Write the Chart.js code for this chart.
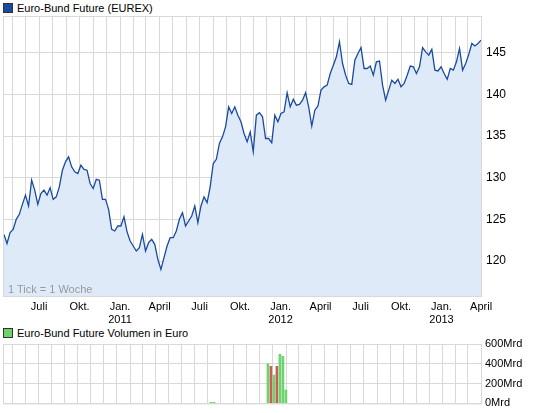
<!DOCTYPE html>
<html>
<head>
<meta charset="utf-8">
<script src="https://cdn.jsdelivr.net/npm/chart.js@4"></script>
<style>
  body { margin: 0; width: 545px; height: 413px; background: #fff; font-family: "Liberation Sans", Arial, sans-serif; position: relative; overflow: hidden; }
  .leg { position: absolute; left: 3px; font-size: 11px; color: #000; }
  .leg span { display: inline-block; width: 8px; height: 8px; border: 1px solid #333; margin-right: 4px; vertical-align: -1px; }
  #note { position: absolute; left: 8px; top: 283px; font-size: 11px; color: #999; }
  canvas { position: absolute; left: 0; }
</style>
</head>
<body>
<div class="leg" style="top:2px"><span style="background:#1a4aa0"></span>Euro-Bund Future (EUREX)</div>
<div class="leg" style="top:327px"><span style="background:#6cd46c"></span>Euro-Bund Future Volumen in Euro</div>
<canvas id="priceChart" style="top:0" width="545" height="330"></canvas>
<canvas id="volChart" style="top:330px" width="545" height="83"></canvas>
<div id="note">1 Tick = 1 Woche</div>
<script>
// Wochenkurse ab April 2010
const prices = [
  123.2, 122.1, 123.4, 123.8, 125.0, 125.6, 126.8, 127.9, 126.6, 129.7,
  128.5, 126.8, 128.1, 128.5, 127.9, 128.8, 127.4, 127.7, 128.9, 130.9,
  131.9, 132.5, 131.3, 130.7, 130.5, 131.5, 131.0, 130.9, 129.3, 128.7,
  129.8, 129.7, 127.4, 127.4, 126.2, 123.8, 123.6, 124.2, 124.2, 125.3,
  123.5, 122.4, 121.8, 121.2, 121.6, 123.2, 121.2, 122.2, 122.6, 122.0,
  120.2, 119.0, 120.4, 121.8, 122.8, 122.8, 123.6, 125.0, 125.8, 124.2,
  124.8, 125.4, 126.6, 124.6, 126.6, 127.7, 127.0, 128.9, 131.7, 132.2,
  134.1, 134.9, 136.1, 138.5, 137.7, 138.5, 137.5, 136.7, 135.3, 134.3,
  135.5, 133.1, 137.5, 137.8, 137.3, 134.7, 134.7, 134.2, 137.5, 136.7,
  137.7, 137.9, 140.2, 138.5, 139.4, 138.7, 138.8, 139.3, 140.2, 138.5,
  136.2, 138.1, 138.6, 140.5, 140.9, 141.1, 142.5, 143.5, 144.5, 146.3,
  143.7, 142.3, 141.3, 141.2, 144.1, 144.9, 145.6, 143.1, 143.1, 143.4,
  142.3, 143.9, 144.0, 141.1, 139.3, 140.5, 141.7, 141.3, 141.8, 140.9,
  141.3, 142.3, 143.4, 143.3, 142.5, 143.3, 145.6, 145.1, 144.7, 145.4,
  142.9, 142.8, 143.3, 142.5, 141.8, 143.1, 142.9, 143.9, 145.5, 142.9,
  143.7, 144.8, 146.1, 145.8, 146.1, 146.5
];

// Volumen (Mrd Euro): nur wenige Wochen mit Daten
const volWeeks = [67, 68, 86, 87, 88, 89, 90, 91, 92];
const volValues = [10, 10, 400, 375, 285, 375, 495, 475, 135];
const volUp = [true, true, true, false, true, false, true, true, true];

const priceTicks = [120, 125, 130, 135, 140, 145];
const volTicks = [0, 200, 400, 600];
const quarterNames = { 0: 'Jan.', 3: 'April', 6: 'Juli', 9: 'Okt.' };

const startDate = new Date(2010, 3, 12);
function weekOf(y, m) {
  return (new Date(y, m, 1) - startDate) / (7 * 864e5);
}
const xMin = -0.3, xMax = prices.length - 0.7;
const monthTicks = [];
for (let y = 2010; y <= 2013; y++) {
  for (let m = 0; m < 12; m++) {
    const w = weekOf(y, m);
    if (w > 0 && w < xMax) monthTicks.push({ value: w, y: y, m: m });
  }
}

const gridColor = '#d9d9d9';
const fontSpec = { family: 'Liberation Sans', size: 11 };

const boxPlugin = {
  id: 'box',
  afterDatasetsDraw(chart) {
    const a = chart.chartArea, c = chart.ctx;
    c.save();
    c.strokeStyle = gridColor;
    c.lineWidth = 1;
    c.strokeRect(a.left + 0.5, a.top + 0.5, a.right - a.left - 1, a.bottom - a.top);
    c.restore();
  }
};

function xScale(showLabels, height) {
  return {
    type: 'linear', min: xMin, max: xMax,
    afterBuildTicks: s => { s.ticks = monthTicks.map(t => ({ value: t.value })); },
    afterFit: s => { s.height = height; },
    grid: { color: gridColor, drawTicks: false },
    border: { display: false },
    ticks: {
      display: showLabels, autoSkip: false, maxRotation: 0, color: '#000', font: fontSpec, padding: 4,
      callback: (v, i) => {
        const t = monthTicks[i];
        if (!t || quarterNames[t.m] === undefined) return '';
        return t.m === 0 ? [quarterNames[0], String(t.y)] : quarterNames[t.m];
      }
    }
  };
}

new Chart(document.getElementById('priceChart'), {
  type: 'line',
  data: {
    datasets: [{
      data: prices.map((p, i) => ({ x: i, y: p })),
      borderColor: '#1a4aa0', borderWidth: 1.3, pointRadius: 0, tension: 0,
      fill: 'start', backgroundColor: '#dfeaf9'
    }]
  },
  options: {
    responsive: false, animation: false,
    layout: { padding: { left: 3, top: 16, right: 0, bottom: 0 } },
    plugins: { legend: { display: false }, tooltip: { enabled: false } },
    scales: {
      x: xScale(true, 34),
      y: {
        position: 'right', min: 115.8, max: 149.4,
        afterBuildTicks: s => { s.ticks = priceTicks.map(v => ({ value: v })); },
        afterFit: s => { s.width = 63; },
        grid: { color: gridColor, drawTicks: false },
        border: { display: false },
        ticks: { color: '#000', font: { family: 'Liberation Sans', size: 12 }, padding: 4 }
      }
    }
  },
  plugins: [boxPlugin]
});

new Chart(document.getElementById('volChart'), {
  type: 'bar',
  data: {
    datasets: [{
      data: volWeeks.map((w, i) => ({ x: w, y: volValues[i] })),
      backgroundColor: volUp.map(u => u ? '#6cd46c' : '#cc5c55'),
      barThickness: 2, grouped: false
    }]
  },
  options: {
    responsive: false, animation: false,
    layout: { padding: { left: 3, top: 14, right: 0, bottom: 0 } },
    plugins: { legend: { display: false }, tooltip: { enabled: false } },
    scales: {
      x: xScale(false, 6),
      y: {
        position: 'right', min: 0, max: 600,
        afterBuildTicks: s => { s.ticks = volTicks.map(v => ({ value: v })); },
        afterFit: s => { s.width = 63; },
        grid: { color: gridColor, drawTicks: false },
        border: { display: false },
        ticks: { color: '#000', font: fontSpec, padding: 3, callback: v => v + 'Mrd' }
      }
    }
  },
  plugins: [boxPlugin]
});
</script>
</body>
</html>
